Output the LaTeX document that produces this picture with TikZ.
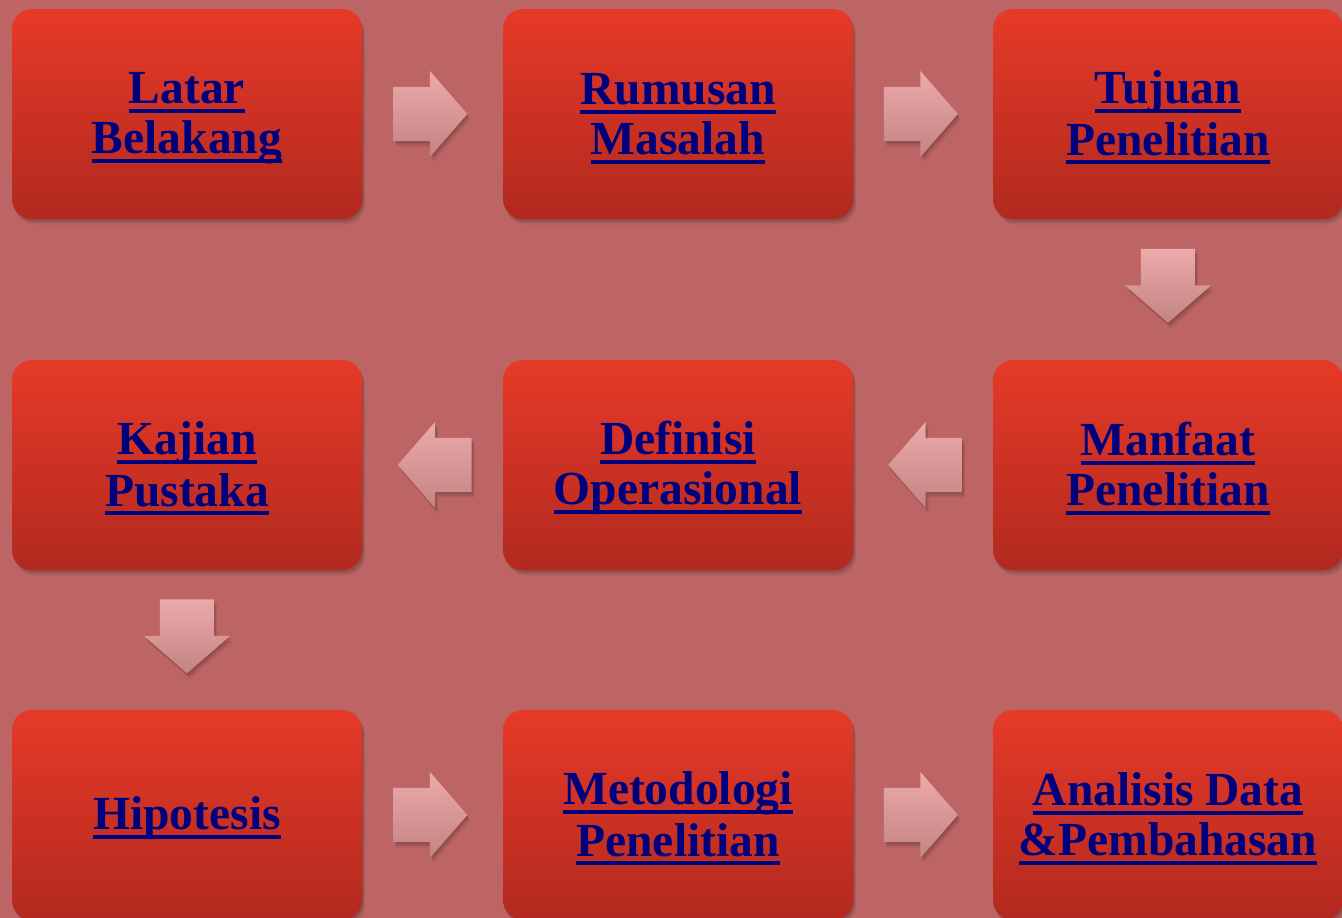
\documentclass[tikz,border=0pt]{standalone}
\usepackage{fontspec}
\setmainfont{Liberation Serif}
\usetikzlibrary{shapes.arrows, shadows, calc}

\definecolor{bgred}{HTML}{BD6564}
\definecolor{boxtop}{HTML}{E63A28}
\definecolor{boxbot}{HTML}{B2291F}
\definecolor{arrtop}{HTML}{ECAAAA}
\definecolor{arrbot}{HTML}{C48383}
\definecolor{linknavy}{HTML}{00007D}

\newsavebox{\linkbox}
\newcommand{\ulink}[1]{\sbox{\linkbox}{#1}\rule{0pt}{40pt}\rlap{\rule[-9pt]{\wd\linkbox}{4pt}}\usebox{\linkbox}}

\begin{document}
\begin{tikzpicture}[x=1pt, y=1pt]
        \tikzset{
          softshadow/.style={
            drop shadow={shadow xshift=1pt, shadow yshift=-1.5pt, opacity=0.10, fill=black},
            drop shadow={shadow xshift=2pt, shadow yshift=-3.5pt, opacity=0.09, fill=black},
            drop shadow={shadow xshift=3pt, shadow yshift=-5.5pt, opacity=0.07, fill=black}},
          box/.style={rectangle, rounded corners=20pt, minimum width=350pt,
            minimum height=210pt, inner sep=0pt, top color=boxtop, bottom color=boxbot,
            softshadow, text=linknavy, align=center,
            font=\fontsize{47.5}{50}\selectfont\bfseries},
          blockarrow/.style={single arrow, draw=none, minimum height=74pt, minimum width=86pt,
            single arrow head extend=16pt, single arrow tip angle=98,
            top color=arrtop, bottom color=arrbot, softshadow},
          rarrow/.style={blockarrow, inner xsep=0pt, inner ysep=27pt},
          larrow/.style={blockarrow, shape border rotate=180, inner xsep=0pt, inner ysep=27pt},
          darrow/.style={blockarrow, shape border rotate=270, inner xsep=27pt, inner ysep=0pt}
        }
        \fill [bgred] (0,0) rectangle (1342,-918);
        \useasboundingbox (0,0) rectangle (1342,-918);
        % first row
        \node [box] (latar) at (187,-114) {\ulink{Latar}\\\ulink{Belakang}};
        \node [box] (rumusan) at (678,-114) {\ulink{Rumusan}\\\ulink{Masalah}};
        \node [box] (tujuan) at (1168,-114) {\ulink{Tujuan}\\\ulink{Penelitian}};
        % second row
        \node [box] (manfaat) at (1168,-465) {\ulink{Manfaat}\\\ulink{Penelitian}};
        \node [box] (definisi) at (678,-465) {\ulink{Definisi}\\\ulink{Operasional}};
        \node [box] (kajian) at (187,-465) {\ulink{Kajian}\\\ulink{Pustaka}};
        % third row
        \node [box] (hipotesis) at (187,-815) {\ulink{Hipotesis}};
        \node [box] (metodologi) at (678,-815) {\ulink{Metodologi}\\\ulink{Penelitian}};
        \node [box] (analisis) at (1168,-815) {\ulink{Analisis Data}\\\ulink{\&Pembahasan}};
        % arrows
        \node [rarrow, xshift=-14pt] (a1) at ($(latar.east)!0.5!(rumusan.west)$) {};
        \node [rarrow, xshift=-14pt] (a2) at ($(rumusan.east)!0.5!(tujuan.west)$) {};
        \node [darrow, yshift=15.5pt] (a3) at ($(tujuan.south)!0.5!(manfaat.north)$) {};
        \node [larrow, xshift=14pt] (a4) at ($(manfaat.west)!0.5!(definisi.east)$) {};
        \node [larrow, xshift=14pt] (a5) at ($(definisi.west)!0.5!(kajian.east)$) {};
        \node [darrow, yshift=15.5pt] (a6) at ($(kajian.south)!0.5!(hipotesis.north)$) {};
        \node [rarrow, xshift=-14pt] (a7) at ($(hipotesis.east)!0.5!(metodologi.west)$) {};
        \node [rarrow, xshift=-14pt] (a8) at ($(metodologi.east)!0.5!(analisis.west)$) {};
\end{tikzpicture}
\end{document}
